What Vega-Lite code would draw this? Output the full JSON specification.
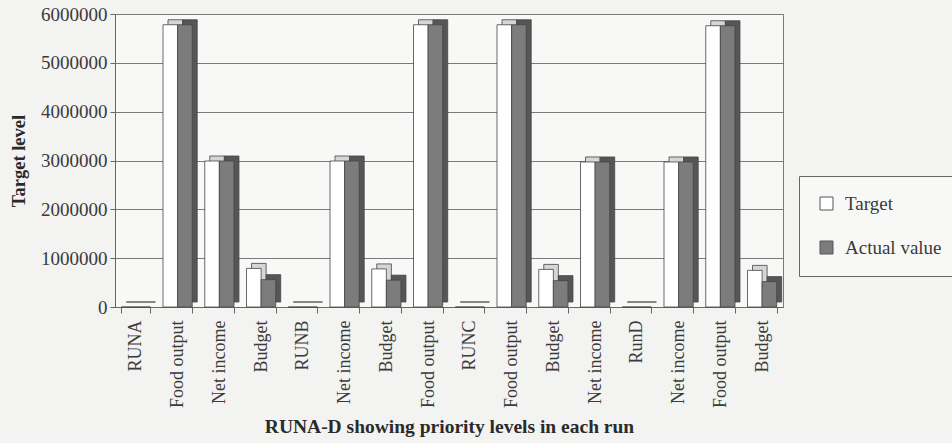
{
  "$schema": "https://vega.github.io/schema/vega-lite/v6.json",
  "autosize": {"type": "none"},
  "padding": {"left": 115, "top": 14, "right": 169, "bottom": 136},
  "width": 668,
  "height": 293,
  "background": "#f3f3f1",
  "config": {
    "font": "Liberation Serif",
    "view": {"stroke": "#7a7a7a", "fill": "#f8f8f7"},
    "axis": {"labelFont": "Liberation Serif", "titleFont": "Liberation Serif", "labelColor": "#3a3a3a", "titleColor": "#2a2a2a", "domainColor": "#666", "tickColor": "#666"},
    "legend": {"labelFont": "Liberation Serif"}
  },
  "data": {
    "values": [
      {"key": "01|RUNA", "series": "Target", "value": 0},
      {"key": "01|RUNA", "series": "Actual value", "value": 0},
      {"key": "02|Food output", "series": "Target", "value": 5780000},
      {"key": "02|Food output", "series": "Actual value", "value": 5780000},
      {"key": "03|Net income", "series": "Target", "value": 2990000},
      {"key": "03|Net income", "series": "Actual value", "value": 2990000},
      {"key": "04|Budget", "series": "Target", "value": 790000},
      {"key": "04|Budget", "series": "Actual value", "value": 560000},
      {"key": "05|RUNB", "series": "Target", "value": 0},
      {"key": "05|RUNB", "series": "Actual value", "value": 0},
      {"key": "06|Net income", "series": "Target", "value": 2990000},
      {"key": "06|Net income", "series": "Actual value", "value": 2990000},
      {"key": "07|Budget", "series": "Target", "value": 780000},
      {"key": "07|Budget", "series": "Actual value", "value": 550000},
      {"key": "08|Food output", "series": "Target", "value": 5780000},
      {"key": "08|Food output", "series": "Actual value", "value": 5780000},
      {"key": "09|RUNC", "series": "Target", "value": 0},
      {"key": "09|RUNC", "series": "Actual value", "value": 0},
      {"key": "10|Food output", "series": "Target", "value": 5780000},
      {"key": "10|Food output", "series": "Actual value", "value": 5780000},
      {"key": "11|Budget", "series": "Target", "value": 770000},
      {"key": "11|Budget", "series": "Actual value", "value": 540000},
      {"key": "12|Net income", "series": "Target", "value": 2970000},
      {"key": "12|Net income", "series": "Actual value", "value": 2970000},
      {"key": "13|RunD", "series": "Target", "value": 0},
      {"key": "13|RunD", "series": "Actual value", "value": 0},
      {"key": "14|Net income", "series": "Target", "value": 2970000},
      {"key": "14|Net income", "series": "Actual value", "value": 2970000},
      {"key": "15|Food output", "series": "Target", "value": 5760000},
      {"key": "15|Food output", "series": "Actual value", "value": 5760000},
      {"key": "16|Budget", "series": "Target", "value": 750000},
      {"key": "16|Budget", "series": "Actual value", "value": 520000}
    ]
  },
  "encoding": {
    "x": {
      "field": "key", "type": "nominal", "sort": null,
      "scale": {"paddingInner": 0.3, "paddingOuter": 0.15},
      "axis": {
        "title": "RUNA-D showing priority levels in each run",
        "titleFontSize": 19.5, "titleFontWeight": "bold", "titlePadding": 10,
        "labelAngle": -90, "labelFontSize": 18, "labelPadding": 7,
        "labelExpr": "split(datum.value, '|')[1]",
        "tickSize": 6, "tickBand": "extent", "grid": false
      }
    },
    "y": {
      "field": "value", "type": "quantitative",
      "scale": {"domain": [0, 6000000], "nice": false},
      "axis": {
        "title": "Target level", "titleFontSize": 18.5, "titleFontWeight": "bold", "titlePadding": 12,
        "values": [0, 1000000, 2000000, 3000000, 4000000, 5000000, 6000000],
        "format": "d", "labelFontSize": 19, "labelPadding": 3, "tickSize": 5,
        "grid": true, "gridColor": "#7a7a7a", "gridWidth": 1
      }
    }
  },
  "resolve": {"scale": {"xOffset": "independent"}},
  "layer": [
    {
      "mark": {"type": "bar", "yOffset": -5, "stroke": "#444", "strokeWidth": 0.8},
      "encoding": {
        "xOffset": {"field": "series", "type": "nominal", "sort": ["Target", "Actual value"], "scale": {"range": [5, 34.2]}},
        "fill": {
          "condition": {"test": "datum.series == 'Target'", "value": "#d6d6d6"},
          "value": "#565656"
        }
      }
    },
    {
      "mark": {"type": "bar", "stroke": "#444", "strokeWidth": 0.8},
      "encoding": {
        "xOffset": {"field": "series", "type": "nominal", "sort": ["Target", "Actual value"], "scale": {"range": [0, 29.2]}},
        "fill": {
          "field": "series", "type": "nominal",
          "scale": {"domain": ["Target", "Actual value"], "range": ["#ffffff", "#7c7c7c"]},
          "legend": {
            "title": null, "orient": "none", "legendX": 684, "legendY": 162,
            "symbolType": "square", "symbolSize": 169, "symbolStrokeColor": "#555", "symbolStrokeWidth": 1,
            "labelFontSize": 19, "labelColor": "#3a3a3a", "rowPadding": 24,
            "labelBaseline": "middle", "labelOffset": 9,
            "padding": 18, "strokeColor": "#666", "fillColor": "#f8f8f7"
          }
        }
      }
    }
  ]
}
